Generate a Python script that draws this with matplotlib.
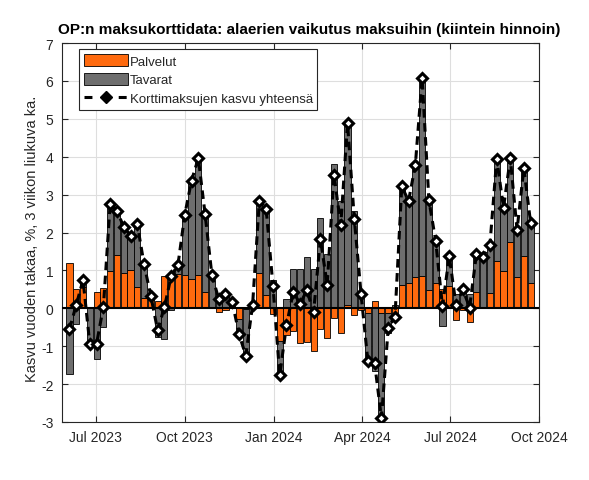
import numpy as np
import pandas as pd
import matplotlib
matplotlib.use("Agg")
import matplotlib.pyplot as plt
import matplotlib.dates as mdates
from matplotlib.lines import Line2D

# weekly values
first_week = "2023-06-04"
palvelut = [
    1.19, 0.50, 0.55, 0.00, 0.42, 0.54, 0.98, 1.40, 0.94, 1.00,
    0.56, 0.26, 0.22, 0.18, 0.85, 0.90, 0.90, 0.88, 0.77, 0.88,
    0.42, 0.00, -0.09, -0.04, 0.00, -0.28, -0.02, 0.00, 0.94, 0.35,
    -0.15, -0.86, -0.70, -0.61, -0.92, -0.89, -1.13, -0.55, -0.79, -0.26,
    -0.64, 0.09, -0.19, -0.05, -0.12, 0.20, -0.13, -0.13, -0.20, 0.62,
    0.68, 0.82, 0.85, 0.48, 0.66, 0.52, 0.58, -0.31, -0.05, -0.35,
    0.44, 0.00, 0.41, 1.26, 0.98, 1.75, 0.83, 1.38, 0.68,
]
tavarat = [
    -1.74, -0.41, 0.20, -1.02, -1.35, -0.50, 1.80, 1.17, 1.25, 0.92,
    1.68, 0.92, 0.10, -0.76, -0.82, -0.05, 0.25, 1.60, 2.60, 3.08,
    2.06, 0.88, 0.33, 0.42, 0.17, -0.40, -1.25, 0.09, 1.92, 2.30,
    0.75, -0.90, 0.25, 1.05, 1.04, 1.35, 1.03, 2.39, 1.42, 3.80,
    2.84, 4.80, 2.56, 0.42, -1.33, -1.65, -2.78, -0.53, 0.08, 2.67,
    2.27, 3.01, 5.25, 2.45, 1.15, -0.47, 0.82, 0.38, 0.55, 0.37,
    1.00, 1.38, 1.30, 2.72, 1.70, 2.25, 1.27, 2.33, 1.60,
]
yhteensa = [
    -0.55, 0.09, 0.75, -0.95, -0.93, 0.04, 2.75, 2.57, 2.15, 1.92,
    2.22, 1.16, 0.32, -0.58, 0.03, 0.85, 1.15, 2.47, 3.37, 3.96,
    2.48, 0.88, 0.25, 0.37, 0.17, -0.68, -1.25, 0.09, 2.84, 2.63,
    0.60, -1.76, -0.45, 0.43, 0.12, 0.47, -0.10, 1.83, 0.62, 3.53,
    2.19, 4.88, 2.36, 0.37, -1.40, -1.45, -2.90, -0.52, -0.22, 3.22,
    2.83, 3.78, 6.08, 2.85, 1.78, 0.05, 1.38, 0.08, 0.50, 0.02,
    1.42, 1.36, 1.68, 3.95, 2.65, 3.96, 2.07, 3.70, 2.25,
]
x_ticks = ["2023-07-01", "2023-10-01", "2024-01-01", "2024-04-01", "2024-07-01", "2024-10-01"]
y_ticks = list(range(-3, 8))

ORANGE = "#ff6a0e"
GREY = "#6e6e6e"
TXT = "#262626"
DASH = (0, (2.8, 1.8))

plt.rcParams["font.family"] = ["Liberation Sans", "DejaVu Sans"]
plt.rcParams["axes.unicode_minus"] = False

dates = pd.date_range(first_week, periods=len(palvelut), freq="7D")
p = np.array(palvelut)
t = np.array(tavarat)
# MATLAB style stacking: positives stack up, negatives stack down
t_bottom = np.where(np.sign(t) == np.sign(p), p, 0.0)

fig = plt.figure(figsize=(5.89, 4.81), dpi=100)
ax = fig.add_axes([0.1048, 0.1206, 0.8109, 0.7879])

b1 = ax.bar(dates, p, width=6.3, color=ORANGE, edgecolor="black", linewidth=0.6, zorder=2)
b2 = ax.bar(dates, t, bottom=t_bottom, width=6.3, color=GREY, edgecolor="black",
            linewidth=0.6, zorder=2)
ax.axhline(0, color="black", linewidth=1.5, zorder=3)
ax.plot(dates, yhteensa, color="black", linestyle=DASH, linewidth=2.2,
        marker="D", markersize=5, markerfacecolor="white", markeredgecolor="black",
        markeredgewidth=2.2, zorder=4)

ax.set_xlim(pd.Timestamp("2023-05-27"), pd.Timestamp("2024-10-01"))
ax.set_ylim(-3, 7)
ax.set_yticks(y_ticks)
ax.set_yticklabels([str(v) for v in y_ticks])
ax.set_xticks(pd.to_datetime(x_ticks))
ax.xaxis.set_major_formatter(mdates.DateFormatter("%b %Y"))

ax.grid(True, color="#dedede", linewidth=0.8, zorder=0)
ax.set_axisbelow(True)
ax.tick_params(direction="in", length=4, width=0.8, top=True, right=True,
               labelsize=10, colors=TXT, pad=6)
for s in ax.spines.values():
    s.set_color(TXT)
    s.set_linewidth(0.8)

ax.set_ylabel("Kasvu vuoden takaa, %, 3 viikon liukuva ka.", fontsize=10.5, color=TXT)
ax.yaxis.set_label_coords(-0.047, 0.487)

fig.text(0.5246, 0.9376, "OP:n maksukorttidata: alaerien vaikutus maksuihin (kiintein hinnoin)",
         ha="center", va="center", fontsize=11, fontweight="bold", color="black")

line_handle = Line2D([], [], color="black", linestyle=(0, (2.6, 8.6)), linewidth=2.2,
                     marker="D", markersize=6, markerfacecolor="black",
                     markeredgecolor="black")
leg = ax.legend([b1, b2, line_handle],
                ["Palvelut", "Tavarat", "Korttimaksujen kasvu yhteensä"],
                loc="upper left", bbox_to_anchor=(0.037, 0.983), fontsize=9.5,
                handlelength=3.3, handleheight=1.05, handletextpad=0.15,
                labelspacing=0.38, borderpad=0.35, borderaxespad=0.0,
                fancybox=False, framealpha=1.0, edgecolor="#262626")
leg.get_frame().set_linewidth(0.8)
for txt in leg.get_texts():
    txt.set_color(TXT)

fig.savefig("out.png", dpi=100)
